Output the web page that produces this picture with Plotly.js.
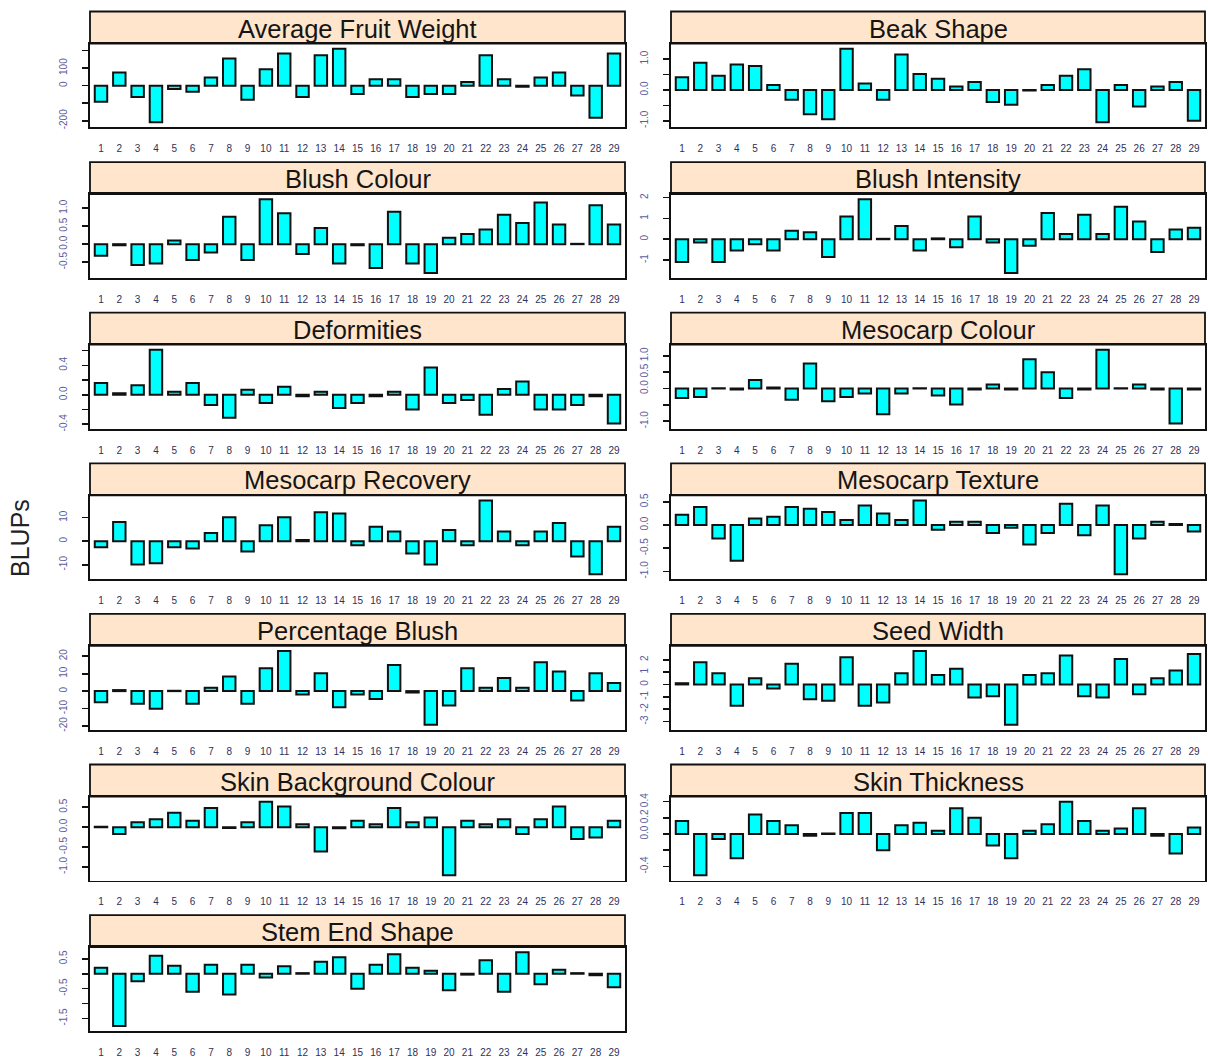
<!DOCTYPE html>
<html>
<head>
<meta charset="utf-8">
<script src="https://cdn.plot.ly/plotly-3.0.1.min.js"></script>
<style>html,body{margin:0;padding:0;background:#fff;}#chart{width:1208px;height:1057px;}</style>
</head>
<body>
<div id="chart"></div>
<script>
// ---------- DATA ----------
const genotypes = ['1','2','3','4','5','6','7','8','9','10','11','12','13','14','15','16','17','18','19','20','21','22','23','24','25','26','27','28','29'];

const traits = ['Average Fruit Weight','Beak Shape','Blush Colour','Blush Intensity','Deformities','Mesocarp Colour','Mesocarp Recovery','Mesocarp Texture','Percentage Blush','Seed Width','Skin Background Colour','Skin Thickness','Stem End Shape'];

const averageFruitWeight = [-92,75,-65,-209,-19,-35,47,155,-80,93,183,-65,174,211,-47,37,37,-65,-47,-47,21,174,37,-6,47,75,-56,-183,183];
const beakShape = [0.41,0.88,0.46,0.83,0.78,0.16,-0.32,-0.79,-0.95,1.34,0.21,-0.32,1.15,0.52,0.36,0.11,0.26,-0.39,-0.48,-0.02,0.16,0.46,0.67,-1.05,0.16,-0.54,0.11,0.26,-1.0];
const blushColour = [-0.32,-0.03,-0.58,-0.54,0.10,-0.44,-0.23,0.76,-0.44,1.25,0.86,-0.27,0.45,-0.54,-0.03,-0.66,0.90,-0.54,-0.80,0.18,0.28,0.41,0.82,0.59,1.16,0.55,0.01,1.08,0.55];
const blushIntensity = [-1.09,-0.16,-1.09,-0.54,-0.24,-0.54,0.41,0.33,-0.85,1.09,1.92,0.02,0.63,-0.54,0.04,-0.39,1.09,-0.16,-1.62,-0.31,1.26,0.25,1.17,0.25,1.56,0.85,-0.61,0.47,0.55];
const deformities = [0.16,0.02,0.13,0.61,0.04,0.16,-0.14,-0.31,0.07,-0.11,0.11,-0.02,0.04,-0.18,-0.11,-0.02,0.04,-0.20,0.37,-0.11,-0.07,-0.27,0.08,0.18,-0.20,-0.20,-0.14,-0.02,-0.39];
const mesocarpColour = [-0.29,-0.26,0.01,-0.03,0.26,0.03,-0.34,0.76,-0.39,-0.26,-0.15,-0.79,-0.15,0.01,-0.21,-0.49,-0.03,0.12,-0.03,0.89,0.50,-0.29,-0.03,1.18,0.01,0.12,-0.03,-1.07,-0.03];
const mesocarpRecovery = [-2.6,8.2,-9.9,-9.4,-2.6,-3.1,3.5,10.2,-4.4,6.8,10.2,0.5,12.3,11.8,-1.7,6.1,4.1,-5.2,-9.9,4.8,-1.7,17.3,4.1,-1.7,4.1,7.7,-6.5,-14.0,6.1];
const mesocarpTexture = [0.22,0.39,-0.29,-0.77,0.14,0.18,0.39,0.35,0.28,0.11,0.42,0.25,0.11,0.53,-0.10,0.07,0.07,-0.17,-0.06,-0.42,-0.17,0.46,-0.22,0.42,-1.06,-0.29,0.07,0.02,-0.14];
const percentageBlush = [-6.4,0.6,-7.3,-10.1,0.2,-7.3,1.9,8.4,-7.3,13.1,23.0,-1.9,10.3,-9.2,-1.9,-4.5,15.0,-0.8,-19.3,-8.2,13.1,1.9,7.5,1.9,16.6,11.2,-5.4,10.3,4.7];
const seedWidth = [0.1,1.81,0.9,-1.73,0.5,-0.32,1.68,-1.2,-1.33,2.21,-1.73,-1.46,0.9,2.71,0.77,1.28,-1.06,-0.96,-3.27,0.77,0.9,2.34,-0.96,-1.06,2.07,-0.8,0.5,1.14,2.47];
const skinBackgroundColour = [0.01,-0.17,0.12,0.20,0.36,0.16,0.48,-0.02,0.12,0.64,0.52,0.07,-0.61,-0.03,0.16,0.07,0.48,0.12,0.24,-1.21,0.16,0.07,0.20,-0.17,0.20,0.52,-0.30,-0.26,0.16];
const skinThickness = [0.16,-0.51,-0.06,-0.30,0.24,0.16,0.11,-0.02,0.006,0.26,0.26,-0.20,0.11,0.14,0.04,0.32,0.20,-0.14,-0.30,0.04,0.12,0.40,0.16,0.04,0.07,0.32,-0.02,-0.24,0.08];
const stemEndShape = [0.2,-1.75,-0.25,0.6,0.27,-0.6,0.3,-0.7,0.3,-0.13,0.25,0.02,0.4,0.55,-0.5,0.3,0.65,0.2,0.1,-0.55,-0.03,0.45,-0.6,0.72,-0.35,0.13,0.02,-0.05,-0.45];

// y tick values / labels per panel
const averageFruitWeightTicks = [-200,-100,0,100,200];
const averageFruitWeightLabels = ['-200','','0','100',''];
const beakShapeTicks = [-1,-0.5,0,0.5,1];
const beakShapeLabels = ['-1.0','','0.0','','1.0'];
const blushColourTicks = [-0.5,0,0.5,1];
const blushColourLabels = ['-0.5','0.0','0.5','1.0'];
const blushIntensityTicks = [-1,0,1,2];
const blushIntensityLabels = ['-1','0','1','2'];
const deformitiesTicks = [-0.4,-0.2,0,0.2,0.4,0.6];
const deformitiesLabels = ['-0.4','','0.0','','0.4',''];
const mesocarpColourTicks = [-1,-0.5,0,0.5,1];
const mesocarpColourLabels = ['-1.0','','0.0','0.5','1.0'];
const mesocarpRecoveryTicks = [-10,0,10];
const mesocarpRecoveryLabels = ['-10','0','10'];
const mesocarpTextureTicks = [-1,-0.5,0,0.5];
const mesocarpTextureLabels = ['-1.0','-0.5','0.0','0.5'];
const percentageBlushTicks = [-20,-10,0,10,20];
const percentageBlushLabels = ['-20','-10','0','10','20'];
const seedWidthTicks = [-3,-2,-1,0,1,2];
const seedWidthLabels = ['-3','-2','-1','0','1','2'];
const skinBackgroundColourTicks = [-1,-0.5,0,0.5];
const skinBackgroundColourLabels = ['-1.0','-0.5','0.0','0.5'];
const skinThicknessTicks = [-0.4,-0.2,0,0.2,0.4];
const skinThicknessLabels = ['-0.4','','0.0','0.2','0.4'];
const stemEndShapeTicks = [-1.5,-1,-0.5,0,0.5];
const stemEndShapeLabels = ['-1.5','','-0.5','','0.5'];

const yAxisTitle = 'BLUPs';

// ---------- BUILD ----------
const series = [averageFruitWeight,beakShape,blushColour,blushIntensity,deformities,mesocarpColour,mesocarpRecovery,mesocarpTexture,percentageBlush,seedWidth,skinBackgroundColour,skinThickness,stemEndShape];
const tickSets = [
  [averageFruitWeightTicks,averageFruitWeightLabels],[beakShapeTicks,beakShapeLabels],
  [blushColourTicks,blushColourLabels],[blushIntensityTicks,blushIntensityLabels],
  [deformitiesTicks,deformitiesLabels],[mesocarpColourTicks,mesocarpColourLabels],
  [mesocarpRecoveryTicks,mesocarpRecoveryLabels],[mesocarpTextureTicks,mesocarpTextureLabels],
  [percentageBlushTicks,percentageBlushLabels],[seedWidthTicks,seedWidthLabels],
  [skinBackgroundColourTicks,skinBackgroundColourLabels],[skinThicknessTicks,skinThicknessLabels],
  [stemEndShapeTicks,stemEndShapeLabels]
];

const W = 1208, H = 1057;
const cols = [[90,625],[671,1205]];
const rowTop0 = 11.5, rowStep = 150.6, stripH = 32, plotH = 84;
const FONT = 'Liberation Sans, Arial, Helvetica, sans-serif';

const data = [];
const layout = {
  width: W, height: H,
  margin: {l:0,r:0,t:0,b:0},
  paper_bgcolor: '#ffffff', plot_bgcolor: '#ffffff',
  showlegend: false,
  font: {family: FONT},
  shapes: [], annotations: []
};

traits.forEach((name, i) => {
  const col = i % 2, row = Math.floor(i / 2);
  const x0 = cols[col][0], x1 = cols[col][1];
  const sTop = rowTop0 + row * rowStep;
  const pTop = sTop + stripH, pBot = pTop + plotH;
  const vals = series[i];
  const mn = Math.min(0, ...vals), mx = Math.max(0, ...vals);
  const d = mx - mn;
  const k = i + 1;
  const xa = 'xaxis' + (k === 1 ? '' : k), ya = 'yaxis' + (k === 1 ? '' : k);
  const xr = 'x' + (k === 1 ? '' : k), yr = 'y' + (k === 1 ? '' : k);

  data.push({
    type: 'bar', x: genotypes, y: vals, xaxis: xr, yaxis: yr,
    width: 0.68,
    marker: {color: '#00FFFF', line: {color: '#111111', width: 2}},
    hoverinfo: 'x+y'
  });

  layout[xa] = {
    domain: [x0 / W, x1 / W], anchor: yr, type: 'category',
    range: [-0.6, genotypes.length - 0.4],
    showline: true, mirror: true, linecolor: '#111111', linewidth: 1.8,
    ticks: '', ticklabelstandoff: 11, tickangle: 0,
    tickfont: {size: 10, color: '#30305a', family: FONT},
    showgrid: false, zeroline: false, fixedrange: true
  };
  layout[ya] = {
    domain: [1 - pBot / H, 1 - pTop / H], anchor: xr,
    range: [mn - 0.07 * d, mx + 0.07 * d],
    tickmode: 'array', tickvals: tickSets[i][0], ticktext: tickSets[i][1],
    tickangle: -90, ticks: 'outside', ticklen: 6, tickwidth: 1.6, tickcolor: '#111111',
    ticklabelstandoff: 11,
    tickfont: {size: 10, color: '#5c5c9c', family: FONT},
    showline: true, mirror: true, linecolor: '#111111', linewidth: 1.8,
    showgrid: false, zeroline: false, fixedrange: true
  };

  layout.shapes.push({
    type: 'rect', xref: 'paper', yref: 'paper',
    x0: x0 / W, x1: x1 / W, y0: 1 - pTop / H, y1: 1 - sTop / H,
    fillcolor: '#FFE5CC', line: {color: '#111111', width: 1.8}, layer: 'below'
  });
  layout.annotations.push({
    xref: 'paper', yref: 'paper', x: (x0 + x1) / 2 / W, y: 1 - (sTop + stripH / 2 + 1) / H,
    xanchor: 'center', yanchor: 'middle', showarrow: false,
    text: name, font: {size: 25.5, color: '#151515', family: FONT}
  });
});

layout.annotations.push({
  xref: 'paper', yref: 'paper', x: 20 / W, y: 1 - 538 / H,
  xanchor: 'center', yanchor: 'middle', showarrow: false, textangle: -90,
  text: yAxisTitle, font: {size: 25, color: '#222222', family: FONT}
});

Plotly.newPlot('chart', data, layout, {staticPlot: true, displayModeBar: false});
</script>
</body>
</html>
